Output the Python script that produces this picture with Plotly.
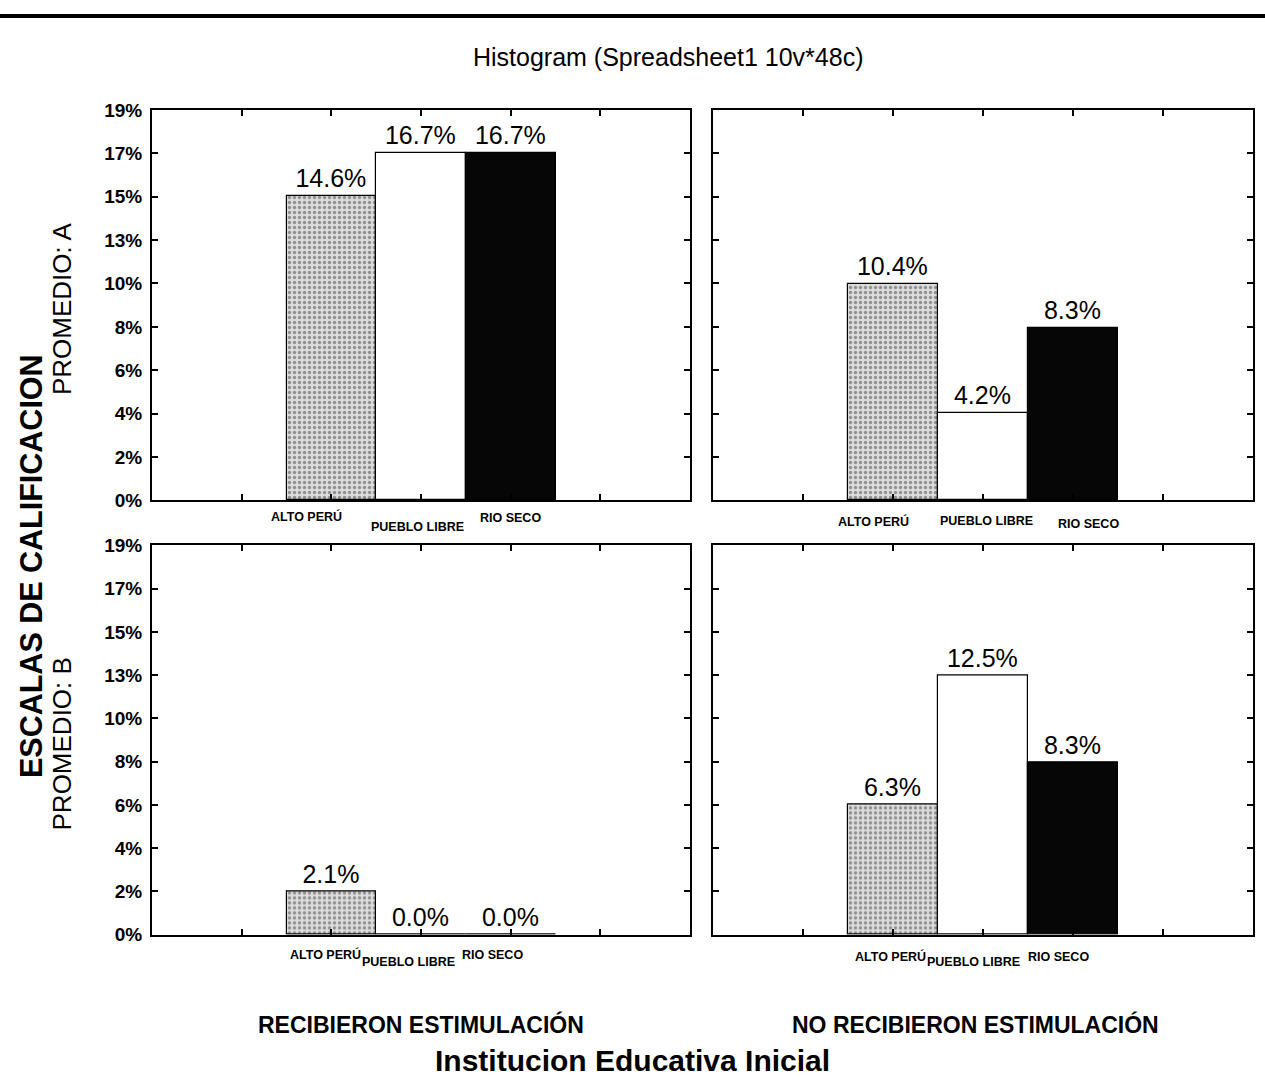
import plotly.graph_objects as go

# ---------------- data ----------------
categories = ["ALTO PERÚ", "PUEBLO LIBRE", "RIO SECO"]
recib_A = [14.6, 16.7, 16.7]
no_recib_A = [10.4, 4.2, 8.3]
recib_B = [2.1, 0.0, 0.0]
no_recib_B = [6.3, 12.5, 8.3]
ytick_vals = [0, 2.083, 4.167, 6.25, 8.333, 10.417, 12.5, 14.583, 16.667, 18.75]
ytick_text = ["0%", "2%", "4%", "6%", "8%", "10%", "13%", "15%", "17%", "19%"]
xtick_vals = [0, 1, 2, 3, 4]

bar_colors = ["#dcdcdc", "#ffffff", "#060606"]
bar_patterns = [".", "", ""]

x_pos = list(range(1, len(categories) + 1))

W, H = 1265, 1083
def px(x):
    return x / W
def py(y):
    return 1 - y / H

panels = [
    ("x", "y", recib_A),
    ("x2", "y2", no_recib_A),
    ("x3", "y3", recib_B),
    ("x4", "y4", no_recib_B),
]

fig = go.Figure()
for xa, ya, vals in panels:
    fig.add_trace(go.Bar(
        x=x_pos, y=vals, width=1.0,
        xaxis=xa, yaxis=ya,
        marker=dict(color=bar_colors,
                    line=dict(color="black", width=1.2),
                    pattern=dict(shape=bar_patterns, fgcolor="#6a6a6a",
                                 size=5, solidity=0.35)),
        text=[f"{v:.1f}%" for v in vals],
        textposition="outside",
        textfont=dict(family="Liberation Sans, Arial", size=25, color="black"),
        cliponaxis=False,
        showlegend=False,
        hoverinfo="skip",
    ))

xdom_l = [px(152), px(690)]
xdom_r = [px(713), px(1253)]
ydom_t = [py(500), py(102)]
ydom_b = [py(943), py(546)]

def xaxis(dom, anchor):
    return dict(domain=dom, anchor=anchor, range=[-1, 5], tickmode="array",
                tickvals=xtick_vals, ticktext=[""] * len(xtick_vals),
                ticks="inside", ticklen=6, tickwidth=1.5, tickcolor="black",
                showline=True, linecolor="black", linewidth=2, mirror="ticks",
                showgrid=False, zeroline=False, fixedrange=True)

def yaxis(dom, anchor, labels):
    return dict(domain=dom, anchor=anchor, range=[0, 18.75], tickmode="array",
                tickvals=ytick_vals,
                ticktext=ytick_text if labels else [""] * len(ytick_vals),
                showticklabels=labels,
                tickfont=dict(family="Liberation Sans, Arial", size=19,
                              color="black", weight="bold"),
                ticks="inside", ticklen=6, tickwidth=1.5, tickcolor="black",
                showline=True, linecolor="black", linewidth=2, mirror="ticks",
                showgrid=False, zeroline=False, fixedrange=True,
                ticklabelstandoff=4)

fig.update_layout(
    width=W, height=H,
    margin=dict(l=0, r=0, t=0, b=0),
    paper_bgcolor="white", plot_bgcolor="white",
    bargap=0,
    xaxis=xaxis(xdom_l, "y"), yaxis=yaxis(ydom_t, "x", True),
    xaxis2=xaxis(xdom_r, "y2"), yaxis2=yaxis(ydom_t, "x2", False),
    xaxis3=xaxis(xdom_l, "y3"), yaxis3=yaxis(ydom_b, "x3", True),
    xaxis4=xaxis(xdom_r, "y4"), yaxis4=yaxis(ydom_b, "x4", False),
)

annotations = []
font_main = "Liberation Sans, Arial"
# category labels under each panel (staggered, as in the original)
label_shift_x = {"x": [-25, -4, 0], "x2": [-20, 3, 15],
                 "x3": [-6, -13, -18], "x4": [-3, -10, -15]}
label_shift_y = {"x": [16, 27, 18], "x2": [21, 21, 24],
                 "x3": [20, 27, 20], "x4": [22, 27, 22]}
for xa, ya, _ in panels:
    for i, cat in enumerate(categories):
        annotations.append(dict(
            x=x_pos[i], y=0, xref=xa, yref=f"{ya} domain",
            xshift=label_shift_x[xa][i], yshift=-label_shift_y[xa][i],
            text=cat, showarrow=False, xanchor="center", yanchor="middle",
            font=dict(family=font_main, size=12.5, color="black",
                      weight="bold")))

def txt(x, y, text, size, bold=False, angle=0):
    return dict(x=px(x), y=py(y), xref="paper", yref="paper", text=text,
                showarrow=False, xanchor="center", yanchor="middle",
                textangle=angle,
                font=dict(family=font_main, size=size, color="black",
                          weight="bold" if bold else "normal"))

annotations += [
    txt(668, 48, "Histogram (Spreadsheet1 10v*48c)", 25),
    txt(31, 567, "ESCALAS DE CALIFICACION", 30.5, bold=True, angle=-90),
    txt(62, 305, "PROMEDIO: A", 26, angle=-90),
    txt(62, 749, "PROMEDIO: B", 26, angle=-90),
    txt(421, 1035, "RECIBIERON ESTIMULACIÓN", 23, bold=True),
    txt(975, 1035, "NO RECIBIERON ESTIMULACIÓN", 23, bold=True),
    txt(632, 1071, "Institucion Educativa Inicial", 30, bold=True),
]
fig.update_layout(annotations=annotations)

fig.add_shape(type="line", xref="paper", yref="paper",
              x0=0, x1=1, y0=py(6), y1=py(6),
              line=dict(color="black", width=4))

# remove the browser's default body margin so the figure fills the window
fig.write_html("out.html",
               config={"displayModeBar": False},
               post_script="document.body.style.margin='0';"
                           "document.body.style.overflow='hidden';")
